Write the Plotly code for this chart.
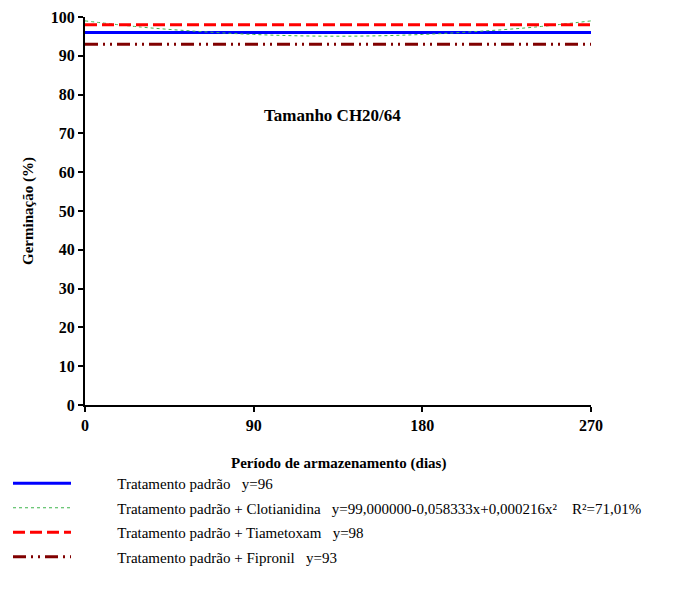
import plotly.graph_objects as go

NB = "\u00a0"

days = [0, 270]
padrao = [96, 96]
tiametoxam = [98, 98]
fipronil = [93, 93]

clot_days = [0, 30, 60, 90, 120, 150, 180, 210, 240, 270]
clotianidina = [99.0, 97.4, 96.3, 95.5, 95.1, 95.1, 95.5, 96.3, 97.4, 99.0]

x_ticks = [0, 90, 180, 270]
y_ticks = [0, 10, 20, 30, 40, 50, 60, 70, 80, 90, 100]

pad = NB * 11
names = [
    pad + "Tratamento padrão" + NB * 3 + "y=96",
    pad + "Tratamento padrão + Clotianidina" + NB * 3 + "y=99,000000-0,058333x+0,000216x²" + NB * 4 + "R²=71,01%",
    pad + "Tratamento padrão + Tiametoxam" + NB * 3 + "y=98",
    pad + "Tratamento padrão + Fipronil" + NB * 3 + "y=93",
]

font = "Liberation Serif"

fig = go.Figure()
fig.add_trace(go.Scatter(x=days, y=padrao, mode="lines", name=names[0], legendgroup="a",
                         line=dict(color="#0000FF", width=3)))
fig.add_trace(go.Scatter(x=clot_days, y=clotianidina, mode="lines", name=names[1], legendgroup="b",
                         line=dict(color="#3CB44B", width=1, dash="dot", shape="spline")))
fig.add_trace(go.Scatter(x=days, y=tiametoxam, mode="lines", name=names[2], legendgroup="c",
                         line=dict(color="#FF0000", width=3, dash="12px,5px")))
fig.add_trace(go.Scatter(x=days, y=fipronil, mode="lines", name=names[3], legendgroup="d",
                         line=dict(color="#800000", width=3, dash="13px,5px,2px,5px,2px,5px")))

fig.add_annotation(x=132, y=74.5, text="<b>Tamanho CH20/64</b>", showarrow=False,
                   font=dict(family=font, size=17, color="black"))
# axis titles
fig.add_annotation(x=0.5, y=0, xref="paper", yref="paper", yanchor="middle", yshift=-58,
                   text="<b>Período de armazenamento (dias)</b>", showarrow=False,
                   font=dict(family=font, size=15, color="black"))
fig.add_annotation(x=0, y=0.5, xref="paper", yref="paper", xanchor="center", xshift=-57,
                   textangle=-90, text="<b>Germinação (%)</b>", showarrow=False,
                   font=dict(family=font, size=15, color="black"))

fig.update_xaxes(range=[0, 270], tickvals=x_ticks,
                 showgrid=False, zeroline=False, showline=True, linecolor="black", linewidth=2,
                 ticks="outside", ticklen=5, tickwidth=2, tickcolor="black",
                 tickfont=dict(family=font, size=16, color="black", weight="bold"))
fig.update_yaxes(range=[0, 100], tickvals=y_ticks,
                 showgrid=False, zeroline=False, showline=True, linecolor="black", linewidth=2,
                 ticks="outside", ticklen=5, tickwidth=2, tickcolor="black",
                 tickfont=dict(family=font, size=16, color="black", weight="bold"))

fig.update_layout(
    width=677, height=586,
    font=dict(family=font, color="black"),
    margin=dict(l=77, r=94, t=9, b=189, autoexpand=False),
    paper_bgcolor="white", plot_bgcolor="white",
    showlegend=True,
    legend=dict(xref="container", yref="container", x=0.0, y=1 - 459 / 586,
                xanchor="left", yanchor="top", orientation="v",
                traceorder="grouped", tracegroupgap=2, itemwidth=58,
                font=dict(family=font, size=15, color="black"),
                bgcolor="rgba(0,0,0,0)"),
)

fig.write_html("out.html")
